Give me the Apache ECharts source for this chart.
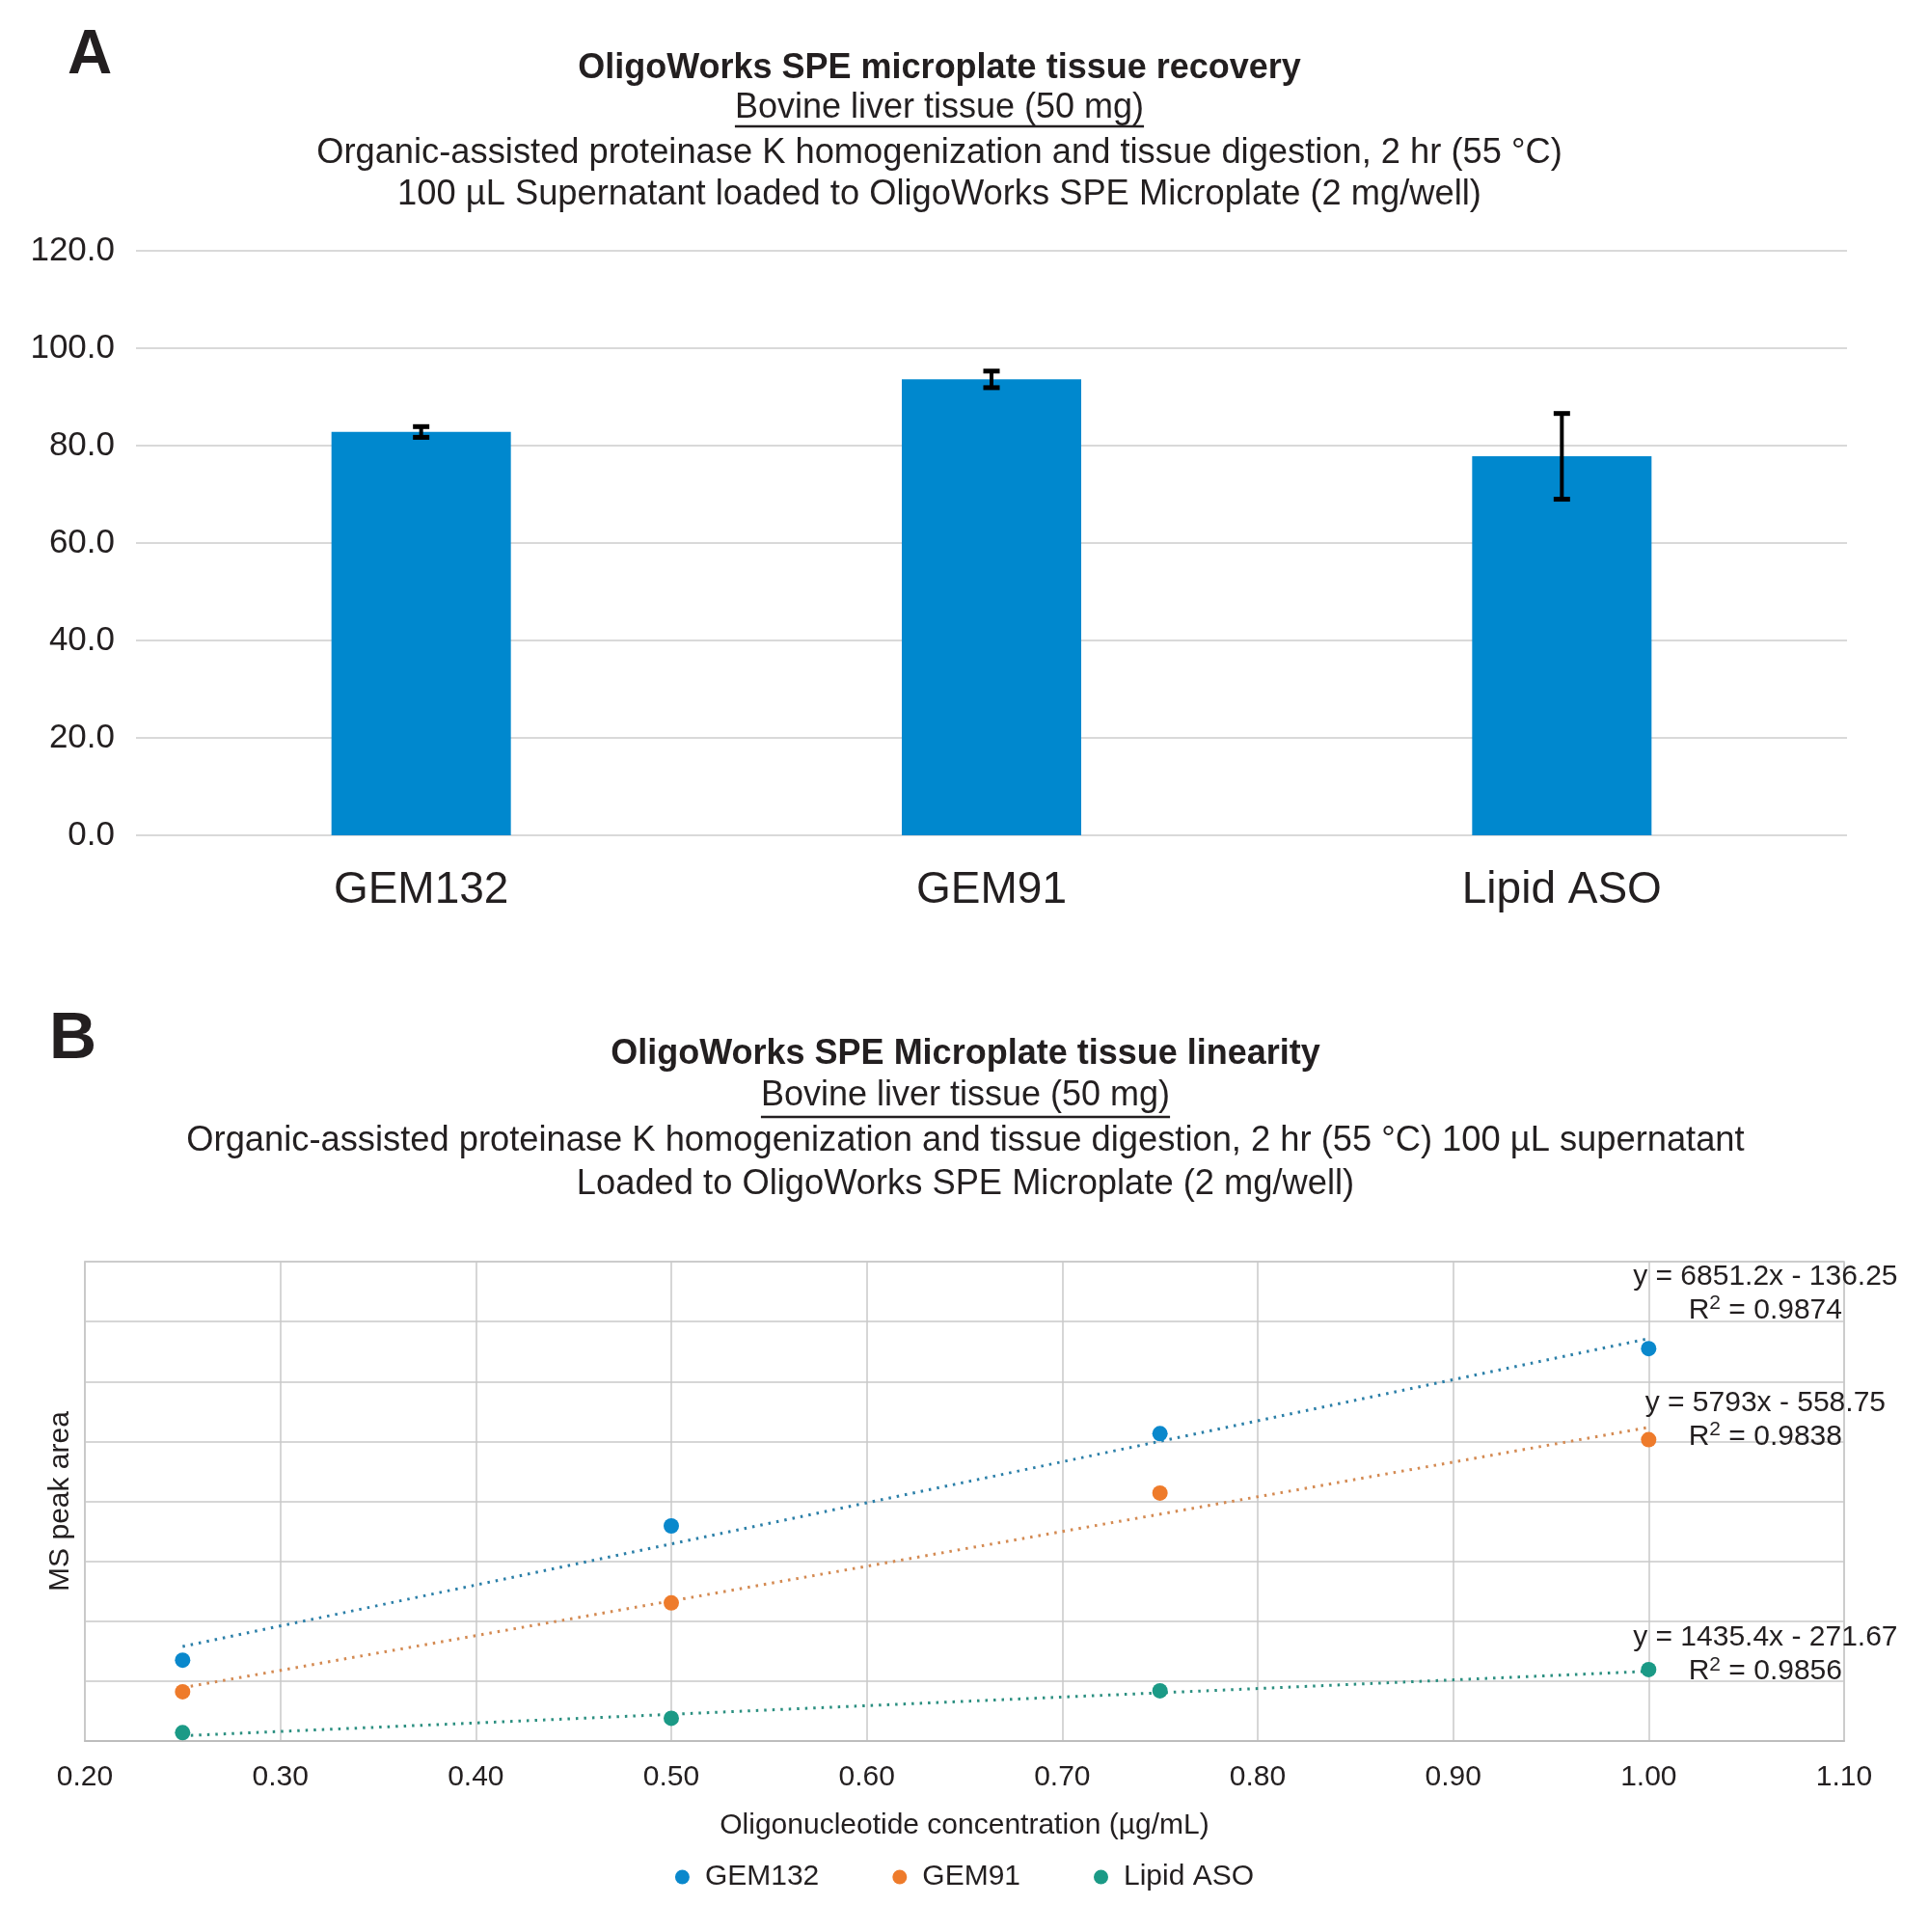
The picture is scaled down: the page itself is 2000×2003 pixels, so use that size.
<!DOCTYPE html>
<html>
<head>
<meta charset="utf-8">
<script src="https://cdn.jsdelivr.net/npm/echarts@6/dist/echarts.min.js"></script>
<style>
html,body{margin:0;padding:0;background:#fff;}
#chart{width:2000px;height:2003px;}
</style>
</head>
<body>
<div id="chart"></div>
<script>
// ---------- Panel A data ----------
const recoveryCategories = ['GEM132', 'GEM91', 'Lipid ASO'];
const recoveryMeans = [82.8, 93.6, 77.8];
const recoveryErrors = [1.1, 1.7, 8.8];
const recoveryTicks = [0, 20, 40, 60, 80, 100, 120];

// ---------- Panel B data ----------
const concentrations = [0.25, 0.50, 0.75, 1.00];
const seriesNames = ['GEM132', 'GEM91', 'Lipid ASO'];
const gem132Area = [1350, 3590, 5129, 6549];
const gem91Area = [822, 2304, 4138, 5029];
const lipidAsoArea = [140, 380, 839, 1192];
const trendSlopes = [6851.2, 5793, 1435.4];
const trendIntercepts = [-136.25, -558.75, -271.67];
const trendR2 = ['0.9874', '0.9838', '0.9856'];
const xTicks = [0.2, 0.3, 0.4, 0.5, 0.6, 0.7, 0.8, 0.9, 1.0, 1.1];

const FONT = '"Liberation Sans", Arial, Helvetica, sans-serif';
const TXT = '#231f20';
const markerColors = ['#0a88cc', '#ee7b2b', '#1b9a86'];
const trendColors = ['#2b7fa8', '#d48a52', '#2b8f80'];
const labelOffsets = [[121, -47], [121, -8], [121, -17]];

const areas = [gem132Area, gem91Area, lipidAsoArea];

function measure(text, size, weight) {
  const c = document.createElement('canvas').getContext('2d');
  c.font = (weight || 'normal') + ' ' + size + 'px ' + FONT;
  return c.measureText(text).width;
}

function textEl(text, x, y, size, weight) {
  return {
    type: 'text', x: x, y: y, silent: true,
    style: { text: text, fill: TXT, fontSize: size, fontWeight: weight || 'normal',
      fontFamily: FONT, align: 'center', verticalAlign: 'middle' }
  };
}
function underline(text, cx, y, size) {
  const w = measure(text, size);
  return { type: 'line', silent: true,
    shape: { x1: cx - w / 2, y1: y, x2: cx + w / 2, y2: y },
    style: { stroke: TXT, lineWidth: 2.5 } };
}

const subA = 'Bovine liver tissue (50 mg)';
const graphics = [
  { type: 'text', x: 70, y: 58, silent: true,
    style: { text: 'A', fill: TXT, fontSize: 64, fontWeight: 'bold', fontFamily: FONT, align: 'left', verticalAlign: 'middle' } },
  textEl('OligoWorks SPE microplate tissue recovery', 974, 71, 36, 'bold'),
  textEl(subA, 974, 112, 36),
  underline(subA, 974, 131, 36),
  textEl('Organic-assisted proteinase K homogenization and tissue digestion, 2 hr (55 °C)', 974, 159, 36.3),
  textEl('100 µL Supernatant loaded to OligoWorks SPE Microplate (2 mg/well)', 974, 202, 36.3),

  { type: 'text', x: 51, y: 1078, silent: true,
    style: { text: 'B', fill: TXT, fontSize: 68, fontWeight: 'bold', fontFamily: FONT, align: 'left', verticalAlign: 'middle' } },
  textEl('OligoWorks SPE Microplate tissue linearity', 1001, 1093, 36, 'bold'),
  textEl(subA, 1001, 1136, 36),
  underline(subA, 1001, 1158, 36),
  textEl('Organic-assisted proteinase K homogenization and tissue digestion, 2 hr (55 °C) 100 µL supernatant', 1001, 1183, 36.3),
  textEl('Loaded to OligoWorks SPE Microplate (2 mg/well)', 1001, 1228, 36.3)
];

const series = [];
// Panel A bars
series.push({
  type: 'bar', xAxisIndex: 0, yAxisIndex: 0, data: recoveryMeans,
  barWidth: 186, itemStyle: { color: '#0088ce' }, silent: true, z: 2
});
series.push({
  type: 'custom', xAxisIndex: 0, yAxisIndex: 0, z: 5, silent: true,
  data: recoveryMeans.map((m, i) => [i, m - recoveryErrors[i], m + recoveryErrors[i]]),
  renderItem: function (params, api) {
    const lo = api.coord([api.value(0), api.value(1)]);
    const hi = api.coord([api.value(0), api.value(2)]);
    const cap = 8.5;
    const st = { stroke: '#000', lineWidth: 4 };
    return { type: 'group', children: [
      { type: 'line', shape: { x1: hi[0], y1: hi[1], x2: lo[0], y2: lo[1] }, style: st },
      { type: 'line', shape: { x1: hi[0] - cap, y1: hi[1], x2: hi[0] + cap, y2: hi[1] }, style: { stroke: '#000', lineWidth: 5 } },
      { type: 'line', shape: { x1: lo[0] - cap, y1: lo[1], x2: lo[0] + cap, y2: lo[1] }, style: { stroke: '#000', lineWidth: 5 } }
    ] };
  }
});

// Panel B trendlines
seriesNames.forEach((name, k) => {
  const x0 = concentrations[0], x1 = concentrations[concentrations.length - 1];
  series.push({
    type: 'line', xAxisIndex: 1, yAxisIndex: 1, silent: true, symbol: 'none', z: 3,
    data: [[x0, trendSlopes[k] * x0 + trendIntercepts[k]], [x1, trendSlopes[k] * x1 + trendIntercepts[k]]],
    lineStyle: { color: trendColors[k], width: 3, type: [2.5, 6] }
  });
});
// Panel B scatter points
seriesNames.forEach((name, k) => {
  series.push({
    name: name, type: 'scatter', xAxisIndex: 1, yAxisIndex: 1, z: 5,
    symbolSize: 16, itemStyle: { color: markerColors[k], opacity: 1 },
    data: concentrations.map((c, i) => [c, areas[k][i]])
  });
});
// Trend equation labels anchored at the trendline ends
seriesNames.forEach((name, k) => {
  const x1 = concentrations[concentrations.length - 1];
  const b = trendIntercepts[k];
  const eq = 'y = ' + trendSlopes[k] + 'x ' + (b < 0 ? '- ' : '+ ') + Math.abs(b);
  series.push({
    type: 'scatter', xAxisIndex: 1, yAxisIndex: 1, z: 6, silent: true,
    symbolSize: 2, itemStyle: { color: 'rgba(255,255,255,0)' },
    data: [[x1, trendSlopes[k] * x1 + b]],
    label: {
      show: true, position: 'inside', offset: labelOffsets[k],
      align: 'center', verticalAlign: 'middle',
      color: TXT, opacity: 1, textBorderWidth: 0,
      formatter: '{t|' + eq + '}\n{t|R}{s|2}{t| = ' + trendR2[k] + '}',
      rich: {
        t: { fontSize: 30, fontFamily: FONT, color: TXT, lineHeight: 35, textBorderWidth: 0 },
        s: { fontSize: 21, fontFamily: FONT, color: TXT, lineHeight: 35, verticalAlign: 'top', padding: [0, 0, 12, 0], textBorderWidth: 0 }
      }
    }
  });
});

const option = {
  backgroundColor: '#fff',
  animation: false,
  textStyle: { fontFamily: FONT },
  graphic: graphics,
  grid: [
    { left: 141, right: 85, top: 260, height: 606, containLabel: false },
    { left: 88, right: 88, top: 1308, height: 497, containLabel: false, show: true,
      borderColor: '#c8c8c8', borderWidth: 1.5, backgroundColor: 'transparent' }
  ],
  xAxis: [
    { type: 'category', gridIndex: 0, data: recoveryCategories,
      axisLine: { show: false }, axisTick: { show: false },
      axisLabel: { fontSize: 46, color: TXT, margin: 34, fontFamily: FONT } },
    { type: 'value', gridIndex: 1, min: xTicks[0], max: xTicks[xTicks.length - 1], interval: 0.1,
      axisLine: { show: true, lineStyle: { color: '#bdbdbd', width: 2 } }, axisTick: { show: false },
      splitLine: { show: true, lineStyle: { color: '#c8c8c8', width: 1.5 } },
      axisLabel: { fontSize: 30, color: TXT, margin: 23, fontFamily: FONT,
        formatter: v => Number(v).toFixed(2) },
      name: 'Oligonucleotide concentration (µg/mL)', nameLocation: 'middle', nameGap: 73,
      nameTextStyle: { fontSize: 30, color: TXT, fontFamily: FONT } }
  ],
  yAxis: [
    { type: 'value', gridIndex: 0, min: recoveryTicks[0], max: recoveryTicks[recoveryTicks.length - 1], interval: 20,
      axisLine: { show: false }, axisTick: { show: false },
      splitLine: { lineStyle: { color: '#d9d9d9', width: 2 } },
      axisLabel: { fontSize: 35, color: TXT, margin: 22, fontFamily: FONT, formatter: v => v.toFixed(1) } },
    { type: 'value', gridIndex: 1, min: 0, max: 8000, interval: 1000,
      axisLine: { show: true, lineStyle: { color: '#c8c8c8', width: 1.5 } }, axisTick: { show: false },
      axisLabel: { show: false },
      splitLine: { show: true, lineStyle: { color: '#c8c8c8', width: 1.5 } },
      name: 'MS peak area', nameLocation: 'middle', nameGap: 10, nameRotate: 90,
      nameTextStyle: { fontSize: 30, color: TXT, fontFamily: FONT } }
  ],
  legend: {
    data: seriesNames, left: 'center', top: 1926,
    icon: 'circle', itemWidth: 15, itemHeight: 15, itemGap: 76,
    textStyle: { fontSize: 30, color: TXT, fontFamily: FONT, padding: [0, 0, 0, 11] },
    selectedMode: false
  },
  series: series
};

const chart = echarts.init(document.getElementById('chart'), null, { renderer: 'canvas' });
chart.setOption(option);
</script>
</body>
</html>
